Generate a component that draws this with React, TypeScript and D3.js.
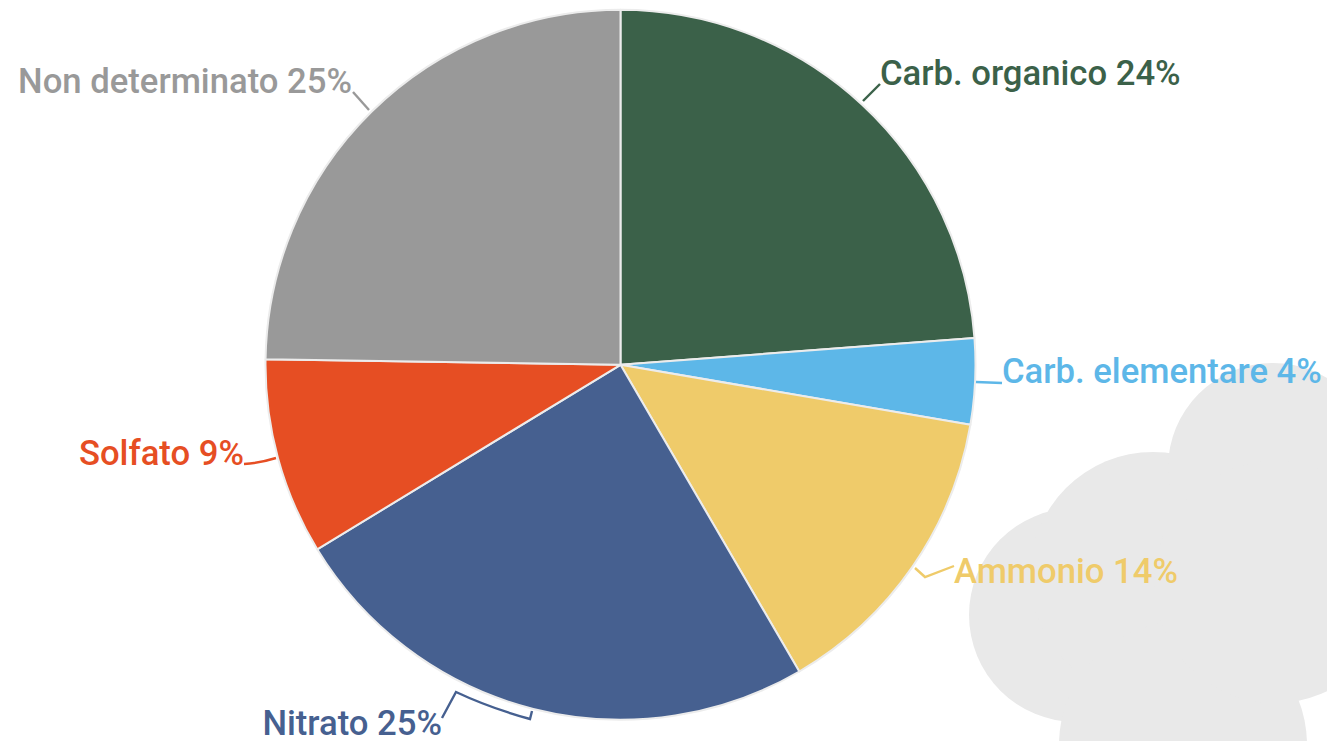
import React, { useMemo } from "react";
import * as d3 from "d3";

const categories = ["Carb. organico", "Carb. elementare", "Ammonio", "Nitrato", "Solfato", "Non determinato"];
const shares = [23.8, 3.9, 13.9, 24.7, 8.95, 24.75];
const labelledPercent = [24, 4, 14, 25, 9, 25];
const colors = ["#3b6149", "#5db7e8", "#efcb6a", "#466090", "#e64e23", "#999999"];

// layout only
const W = 1327, H = 741, CX = 620.5, CY = 364.8, R = 355;
const labelPos: [number, number, string][] = [
  [880, 85, "start"], [1002, 383, "start"], [954, 583, "start"],
  [442, 735, "end"], [244, 465, "end"], [352, 93, "end"],
];
const leaders = [
  "M863,101L880,84",
  "M976,382L1002,383",
  "M915,568L925,577L954,566",
  "M532,711L530,719Q490,708 456,692L442,718",
  "M276,458Q260,463 244,464",
  "M369,110L353,92",
];
const cloud: [number, number, number][] = [
  [1076, 615, 107], [1153, 575, 123], [1273, 468, 105], [1183, 745, 124], [1275, 582, 121],
];

export default function App() {
  const arcs = useMemo(() => d3.pie<number>().sort(null)(shares), []);
  const arc = useMemo(() => d3.arc<d3.PieArcDatum<number>>().innerRadius(0).outerRadius(R), []);
  return (
    <svg width={W} height={H} style={{ position: "absolute", left: 0, top: 0, background: "#fff" }}
      fontFamily="Roboto" fontWeight={500} fontSize={34.67}>
      <g fill="#e9e9e9">
        {cloud.map(([x, y, r], i) => <circle key={i} cx={x} cy={y} r={r} />)}
      </g>
      <g transform={`translate(${CX},${CY})`}>
        {arcs.map((a, i) => (
          <path key={i} d={arc(a) ?? ""} fill={colors[i]} stroke="#ececec" strokeWidth={2} strokeLinejoin="round" />
        ))}
      </g>
      {leaders.map((d, i) => <path key={i} d={d} fill="none" stroke={colors[i]} strokeWidth={2.4} />)}
      {categories.map((c, i) => (
        <text key={c} x={labelPos[i][0]} y={labelPos[i][1]} textAnchor={labelPos[i][2] as any} fill={colors[i]}>
          {`${c} ${labelledPercent[i]}%`}
        </text>
      ))}
    </svg>
  );
}
